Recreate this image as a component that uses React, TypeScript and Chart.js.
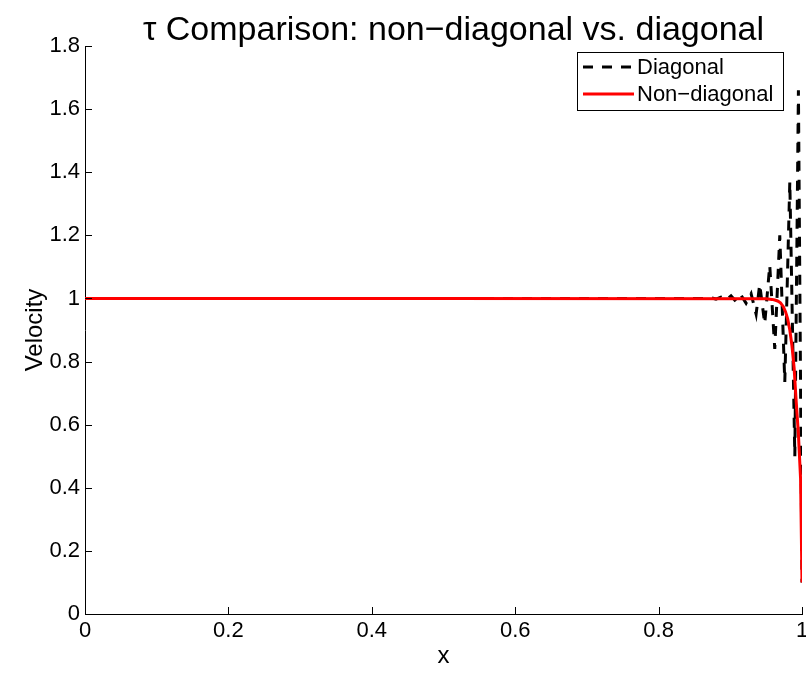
import React, { useEffect, useRef } from "react";
import { Chart, registerables } from "chart.js";

Chart.register(...registerables);

// Diagonal (lumped) scheme: flat at 1, then a growing sawtooth near the outflow boundary
const diagX = [0, 0.5, 0.866, 0.873, 0.88, 0.887, 0.894, 0.901, 0.908, 0.915, 0.922, 0.929, 0.936, 0.941, 0.948, 0.955, 0.962, 0.969, 0.976, 0.983, 0.99, 0.995, 1.0];
const diagY = [1, 1, 1, 1.002, 0.998, 1.004, 0.995, 1.008, 0.99, 1.01, 0.985, 1.015, 0.95, 1.045, 0.92, 1.105, 0.84, 1.2, 0.735, 1.37, 0.5, 1.66, 0.1];

// Non-diagonal (consistent) scheme: smooth boundary layer
const nonDiagX = [0, 0.5, 0.95, 0.958, 0.962, 0.966, 0.97, 0.974, 0.977, 0.98, 0.983, 0.986, 0.989, 0.992, 0.995, 0.998, 1.0];
const nonDiagY = [1, 1, 0.999, 0.997, 0.995, 0.992, 0.986, 0.974, 0.958, 0.935, 0.9, 0.85, 0.78, 0.67, 0.57, 0.43, 0.1];

const xTicks = [0, 0.2, 0.4, 0.6, 0.8, 1];
const yTicks = [0, 0.2, 0.4, 0.6, 0.8, 1, 1.2, 1.4, 1.6, 1.8];

const titleText = "\u03c4 Comparison: non\u2212diagonal vs. diagonal";
const seriesLabels = ["Diagonal", "Non\u2212diagonal"];

const FONT = "'Liberation Sans', Arial, Helvetica, sans-serif";

const fmt = (v: number) => String(Math.round(v * 10) / 10);

// Inward tick marks, title and boxed legend
const decorations = {
  id: "decorations",
  afterDraw(chart: any) {
    const ctx = chart.ctx as CanvasRenderingContext2D;
    const xs = chart.scales.x;
    const ys = chart.scales.y;
    const area = chart.chartArea;
    ctx.save();
    ctx.strokeStyle = "#000";
    ctx.lineWidth = 1;
    ctx.beginPath();
    xTicks.forEach((t) => {
      const p = Math.round(xs.getPixelForValue(t)) + 0.5;
      ctx.moveTo(p, area.bottom);
      ctx.lineTo(p, area.bottom - 7);
    });
    yTicks.forEach((t) => {
      const p = Math.round(ys.getPixelForValue(t)) + 0.5;
      ctx.moveTo(area.left, p);
      ctx.lineTo(area.left + 7, p);
    });
    ctx.stroke();

    // title
    ctx.fillStyle = "#000";
    ctx.font = `34px ${FONT}`;
    ctx.textAlign = "center";
    ctx.textBaseline = "alphabetic";
    ctx.fillText(titleText, (area.left + area.right) / 2 + 10, 40);

    // legend
    const bx = 577, by = 52, bw = 206, bh = 58;
    ctx.fillStyle = "#fff";
    ctx.fillRect(bx, by, bw, bh);
    ctx.strokeStyle = "#000";
    ctx.lineWidth = 1;
    ctx.strokeRect(bx + 0.5, by + 0.5, bw, bh);
    const ds = chart.data.datasets;
    const rows = [by + 15, by + 42];
    ds.forEach((d: any, i: number) => {
      const y = rows[i];
      ctx.beginPath();
      ctx.strokeStyle = d.borderColor;
      ctx.lineWidth = d.borderWidth;
      ctx.setLineDash(d.borderDash || []);
      ctx.moveTo(bx + 6, y);
      ctx.lineTo(bx + 57, y);
      ctx.stroke();
      ctx.setLineDash([]);
      ctx.fillStyle = "#000";
      ctx.font = `22px ${FONT}`;
      ctx.textAlign = "left";
      ctx.textBaseline = "middle";
      ctx.fillText(d.label, bx + 60, y + 1);
    });
    ctx.restore();
  },
};

export default function App() {
  const ref = useRef<HTMLCanvasElement | null>(null);
  useEffect(() => {
    if (!ref.current) return;
    const chart = new Chart(ref.current, {
      type: "line",
      data: {
        datasets: [
          {
            label: seriesLabels[0],
            data: diagX.map((x, i) => ({ x, y: diagY[i] })),
            borderColor: "#000000",
            borderWidth: 3,
            borderDash: [10, 9],
            pointRadius: 0,
            tension: 0,
            order: 1,
          },
          {
            label: seriesLabels[1],
            data: nonDiagX.map((x, i) => ({ x, y: nonDiagY[i] })),
            borderColor: "#ff0000",
            borderWidth: 3,
            pointRadius: 0,
            tension: 0,
            order: 0,
          },
        ],
      },
      options: {
        animation: false,
        responsive: false,
        maintainAspectRatio: false,
        layout: { padding: { top: 46, right: 4, left: 0, bottom: 0 } },
        plugins: {
          legend: { display: false },
          title: { display: false },
          tooltip: { enabled: false },
        },
        scales: {
          x: {
            type: "linear",
            min: 0,
            max: 1,
            afterBuildTicks: (s: any) => {
              s.ticks = xTicks.map((v) => ({ value: v }));
            },
            afterFit: (s: any) => {
              s.height = 61;
              s.paddingLeft = 0;
              s.paddingRight = 0;
            },
            ticks: {
              callback: (v: any) => fmt(Number(v)),
              color: "#000",
              font: { size: 22, family: FONT },
              padding: 4,
              maxRotation: 0,
            },
            grid: { display: false, drawTicks: false },
            border: { display: true, color: "#000", width: 1 },
            title: {
              display: true,
              text: "x",
              color: "#000",
              font: { size: 24, family: FONT },
              padding: { top: 0, bottom: 4 },
            },
          },
          y: {
            type: "linear",
            min: 0,
            max: 1.8,
            afterBuildTicks: (s: any) => {
              s.ticks = yTicks.map((v) => ({ value: v }));
            },
            afterFit: (s: any) => {
              s.width = 85;
              s.paddingTop = 0;
              s.paddingBottom = 0;
            },
            ticks: {
              callback: (v: any) => fmt(Number(v)),
              color: "#000",
              font: { size: 22, family: FONT },
              padding: 5,
            },
            grid: { display: false, drawTicks: false },
            border: { display: true, color: "#000", width: 1 },
            title: {
              display: true,
              text: "Velocity",
              color: "#000",
              font: { size: 24, family: FONT },
              padding: { top: 21, bottom: 0 },
            },
          },
        },
      },
      plugins: [decorations],
    });
    return () => chart.destroy();
  }, []);
  return (
    <div style={{ position: "fixed", left: 0, top: 0, width: 806, height: 675, background: "#fff" }}>
      <canvas ref={ref} width={806} height={675} style={{ width: 806, height: 675 }} />
    </div>
  );
}
